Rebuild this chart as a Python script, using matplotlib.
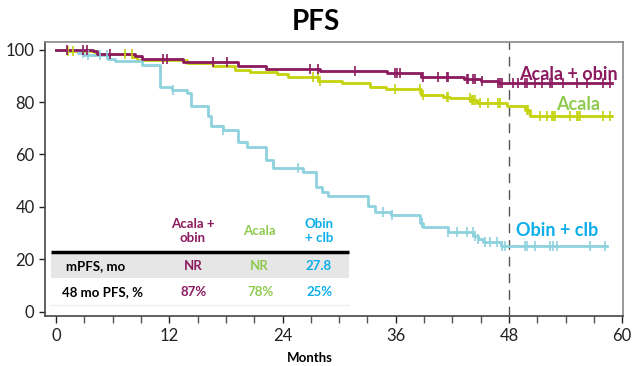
import matplotlib.pyplot as plt
import numpy as np
from matplotlib.patches import Rectangle

plt.rcParams['font.family'] = ['Lato', 'DejaVu Sans']

# Kaplan-Meier steps (months, % PFS)
ao_t = [0, 3.9, 4.3, 8.4, 9.1, 13.5, 19.3, 22.2, 28.0, 35.1, 38.7, 43.2, 45.0, 46.8]
ao_s = [100, 99.3, 98.5, 97.5, 96.5, 95.3, 93.6, 92.6, 92.0, 91.0, 89.4, 88.7, 88.0, 87.2]
ao_end = 58.9
ao_cens = [1.13, 2.86, 3.25, 5.72, 11.34, 11.73, 16.64, 18.09, 26.91, 27.76, 31.68,
           35.92, 36.13, 36.45, 38.89, 40.48, 41.40, 41.54, 43.52, 43.65, 44.22, 44.40,
           45.11, 46.83, 47.05, 47.23, 48.42, 48.95, 49.69, 49.87, 50.76, 51.46, 52.35,
           52.52, 53.72, 55.17, 56.23, 57.96, 58.70]

a_t = [0, 1.2, 4.1, 8.2, 8.6, 13.9, 16.6, 19.0, 20.6, 23.4, 24.6, 27.8, 30.3, 33.3,
       35.0, 38.7, 41.0, 41.7, 43.9, 44.6, 47.8, 49.7, 50.2]
a_s = [100, 99.4, 98.2, 97.3, 96.0, 94.7, 93.7, 92.3, 91.3, 90.6, 89.4, 88.1, 87.1, 85.8,
       84.8, 82.8, 82.0, 81.4, 80.7, 79.5, 78.5, 76.9, 74.6]
a_end = 58.9
a_cens = [1.27, 1.80, 7.31, 8.05, 27.23, 27.76, 27.97, 35.92, 38.57, 38.89, 41.40, 41.54,
          43.87, 44.05, 44.19, 44.40, 44.93, 45.77, 46.83, 47.05, 49.87, 50.01, 51.28,
          51.99, 52.52, 52.69, 52.87, 54.46, 55.17, 55.34, 55.52, 57.99, 58.70]

oc_t = [0, 2.3, 2.9, 5.5, 6.3, 9.1, 11.0, 12.3, 13.9, 14.3, 16.1, 16.4, 17.7, 19.3, 20.2,
        22.3, 23.0, 26.2, 27.6, 28.2, 28.8, 33.1, 33.8, 35.5, 38.6, 38.9, 41.5, 44.2,
        44.7, 45.2, 47.2]
oc_s = [100, 98.6, 97.8, 96.6, 95.7, 94.1, 85.8, 84.6, 83.3, 78.5, 74.5, 71.0, 69.3, 64.8,
        62.9, 57.9, 54.8, 53.4, 47.7, 45.8, 44.3, 40.2, 37.9, 36.9, 33.7, 32.4, 30.5, 29.0,
        27.6, 26.7, 25.0]
oc_end = 58.4
oc_cens = [2.86, 3.39, 4.66, 5.40, 12.40, 17.70, 25.64, 34.65, 35.60, 38.78, 41.54, 42.49,
           43.55, 44.19, 44.40, 44.72, 45.46, 45.99, 46.73, 47.26, 47.58, 49.69, 49.91,
           50.76, 52.35, 52.66, 53.08, 56.58, 58.17]

arms = ['Acala + obin', 'Acala', 'Obin + clb']
mpfs = ['NR', 'NR', '27.8']
pfs48 = ['87%', '78%', '25%']

purple = '#8C1A5E'
green_line = '#C5D30C'
green_txt = '#8FCB4F'
cyan_line = '#8ED2DE'
cyan_txt = '#0AAEEB'

W, H = 632, 366
fig = plt.figure(figsize=(W / 100, H / 100), dpi=100)
ax = fig.add_axes([45 / W, 1 - 316 / H, (623 - 45) / W, (316 - 42) / H])


def fx(x):
    return x / W


def fy(y):
    return 1 - y / H


def km(t, s, end, cens, color):
    tt = list(t) + [end]
    ss = list(s) + [s[-1]]
    ax.step(tt, ss, where='post', color=color, lw=2.0, zorder=3)
    idx = np.searchsorted(t, cens, side='right') - 1
    ax.plot(cens, np.array(s)[idx], ls='none', marker='|', ms=7, mew=1.2,
            color=color, zorder=4)


km(a_t, a_s, a_end, a_cens, green_line)
km(oc_t, oc_s, oc_end, oc_cens, cyan_line)
km(ao_t, ao_s, ao_end, ao_cens, purple)

ax.axvline(48, color='#555555', lw=1.0, dashes=(7, 5), zorder=2)

ax.set_xlim(-1.17, 60.08)
ax.set_ylim(-1.64, 102.9)
ax.set_xticks(range(0, 61, 12))
ax.set_xticks(range(0, 61, 3), minor=True)
ax.set_yticks(range(0, 101, 20))
ax.tick_params(axis='both', labelsize=12, colors='#222222', length=5, width=1)
ax.tick_params(axis='x', which='minor', length=5, width=1, color='#555555')
ax.tick_params(axis='y', length=4)
for side in ['top', 'right']:
    ax.spines[side].set_color('#888888')
for side in ['left', 'bottom']:
    ax.spines[side].set_color('#444444')
for sp in ax.spines.values():
    sp.set_linewidth(1.2)

fig.text(fx(316), fy(22), 'PFS', ha='center', va='center', fontsize=20,
         fontweight='bold')
fig.text(fx(310), fy(358), 'Months', ha='center', va='center', fontsize=9.5,
         fontweight='bold')

# arm labels at the right
ax.text(fx(568), fy(74), arms[0], transform=fig.transFigure, ha='center',
        va='center', fontsize=13, fontweight='bold', color=purple)
ax.text(fx(578), fy(104), arms[1], transform=fig.transFigure, ha='center',
        va='center', fontsize=13, fontweight='bold', color=green_txt)
ax.text(fx(557), fy(230), arms[2], transform=fig.transFigure, ha='center',
        va='center', fontsize=13, fontweight='bold', color=cyan_txt)

# summary table
ax.add_patch(Rectangle((fx(51), fy(305)), fx(349) - fx(51), fy(253) - fy(305),
                       transform=fig.transFigure, facecolor='white',
                       edgecolor='none', zorder=5))
ax.add_patch(Rectangle((fx(51), fy(278)), fx(349) - fx(51), fy(253) - fy(278),
                       transform=fig.transFigure, facecolor='#E6E6E6',
                       edgecolor='none', zorder=5))
ax.plot([fx(51), fx(349)], [fy(252), fy(252)], transform=fig.transFigure,
        color='black', lw=2.5, zorder=6, solid_capstyle='butt')
ax.plot([fx(51), fx(349)], [fy(305), fy(305)], transform=fig.transFigure,
        color='#EEEEEE', lw=1, zorder=6)

col_x = [193, 259, 319]
col_c = [purple, green_txt, cyan_txt]
heads = ['Acala +\nobin', 'Acala', 'Obin\n+ clb']
for x, c, h, m, p in zip(col_x, col_c, heads, mpfs, pfs48):
    kw = dict(transform=fig.transFigure, ha='center', va='center', fontsize=9.5,
              fontweight='bold', color=c, zorder=7, linespacing=1.15)
    ax.text(fx(x), fy(231), h, **kw)
    ax.text(fx(x), fy(266), m, **kw)
    ax.text(fx(x + 1), fy(292), p, **kw)

ax.text(fx(96), fy(266), 'mPFS, mo', transform=fig.transFigure, ha='center',
        va='center', fontsize=9.5, fontweight='bold', color='black', zorder=7)
ax.text(fx(103), fy(292), '48 mo PFS, %', transform=fig.transFigure, ha='center',
        va='center', fontsize=9.5, fontweight='bold', color='black', zorder=7)

fig.savefig('out.png', dpi=100)
